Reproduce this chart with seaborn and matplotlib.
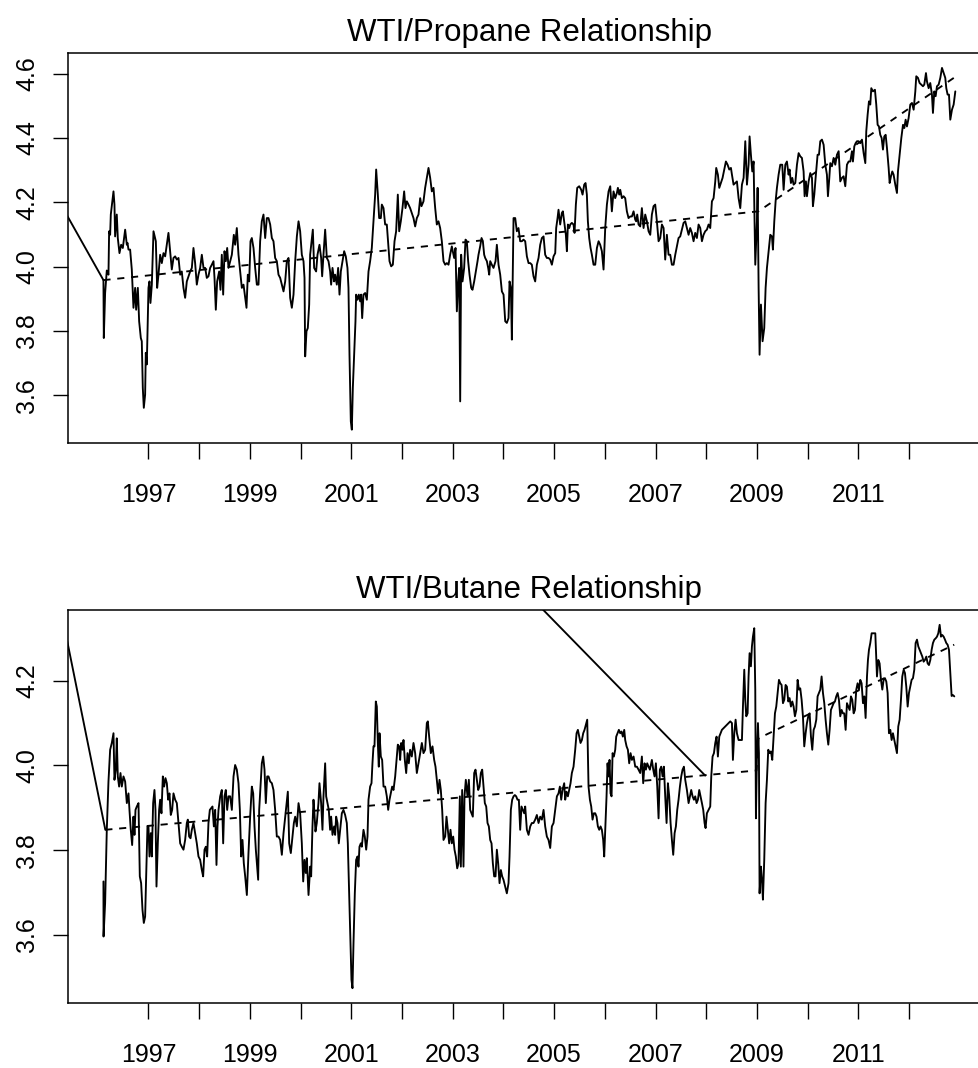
import matplotlib
matplotlib.use("Agg")
import matplotlib.pyplot as plt
import pandas as pd
import seaborn as sns

# weekly WTI/propane ratio (year, value)
propane = [
    (1996.113, 3.958), (1996.120, 3.778), (1996.146, 3.918), (1996.179, 3.988), (1996.212, 3.975),
    (1996.225, 4.110), (1996.245, 4.099), (1996.258, 4.162), (1996.311, 4.234), (1996.330, 4.193),
    (1996.343, 4.094), (1996.376, 4.162), (1996.396, 4.089), (1996.429, 4.042), (1996.462, 4.068),
    (1996.495, 4.058), (1996.541, 4.115), (1996.574, 4.068), (1996.587, 4.074), (1996.607, 4.053),
    (1996.639, 4.053), (1996.672, 3.991), (1996.705, 3.872), (1996.738, 3.934), (1996.758, 3.866),
    (1996.791, 3.934), (1996.817, 3.830), (1996.850, 3.778), (1996.869, 3.768), (1996.889, 3.623),
    (1996.909, 3.561), (1996.935, 3.602), (1996.948, 3.732), (1996.968, 3.696), (1997.001, 3.934),
    (1997.021, 3.954), (1997.040, 3.887), (1997.067, 3.944), (1997.100, 4.110), (1997.146, 4.079),
    (1997.172, 3.934), (1997.198, 3.975), (1997.231, 4.037), (1997.264, 4.011), (1997.297, 4.042),
    (1997.330, 4.032), (1997.363, 4.068), (1997.395, 4.105), (1997.428, 4.048), (1997.461, 3.991),
    (1997.494, 4.027), (1997.527, 4.032), (1997.560, 4.022), (1997.593, 4.027), (1997.626, 3.975),
    (1997.658, 3.985), (1997.691, 3.934), (1997.724, 3.903), (1997.757, 3.954), (1997.790, 3.970),
    (1997.823, 3.985), (1997.856, 3.996), (1997.888, 4.058), (1997.921, 4.011), (1997.954, 3.944),
    (1997.987, 3.975), (1998.020, 3.996), (1998.053, 4.037), (1998.086, 3.996), (1998.119, 3.996),
    (1998.151, 3.965), (1998.184, 3.970), (1998.217, 3.996), (1998.250, 4.006), (1998.283, 4.017),
    (1998.303, 3.965), (1998.329, 3.866), (1998.355, 3.954), (1998.395, 3.985), (1998.421, 3.928),
    (1998.447, 4.037), (1998.474, 3.913), (1998.500, 4.048), (1998.526, 4.017), (1998.553, 4.058),
    (1998.579, 3.996), (1998.612, 4.017), (1998.645, 4.037), (1998.684, 4.099), (1998.710, 4.068),
    (1998.743, 4.120), (1998.776, 4.037), (1998.809, 3.985), (1998.842, 3.934), (1998.875, 3.944),
    (1998.908, 3.903), (1998.934, 3.872), (1998.960, 3.975), (1998.987, 3.954), (1999.013, 4.079),
    (1999.039, 4.089), (1999.072, 4.058), (1999.105, 3.996), (1999.138, 3.944), (1999.171, 3.944),
    (1999.203, 4.079), (1999.236, 4.141), (1999.269, 4.162), (1999.302, 4.089), (1999.335, 4.151),
    (1999.368, 4.151), (1999.401, 4.131), (1999.434, 4.089), (1999.466, 4.079), (1999.499, 4.027),
    (1999.532, 4.017), (1999.565, 3.975), (1999.598, 3.965), (1999.631, 3.944), (1999.664, 3.923),
    (1999.697, 3.954), (1999.729, 4.017), (1999.762, 4.027), (1999.795, 3.903), (1999.828, 3.872),
    (1999.861, 3.913), (1999.894, 4.017), (1999.927, 4.094), (1999.960, 4.141), (1999.992, 4.110),
    (2000.025, 4.037), (2000.058, 4.017), (2000.078, 3.965), (2000.091, 3.721), (2000.117, 3.799),
    (2000.143, 3.809), (2000.170, 3.882), (2000.189, 4.037), (2000.242, 4.115), (2000.268, 3.996),
    (2000.307, 3.985), (2000.334, 4.037), (2000.373, 4.068), (2000.406, 4.027), (2000.426, 3.970),
    (2000.452, 4.037), (2000.485, 4.115), (2000.518, 4.027), (2000.551, 4.017), (2000.583, 3.985),
    (2000.603, 3.944), (2000.630, 3.996), (2000.662, 3.954), (2000.682, 3.975), (2000.715, 3.944),
    (2000.741, 3.996), (2000.768, 3.913), (2000.794, 3.985), (2000.827, 4.017), (2000.860, 4.048),
    (2000.892, 4.032), (2000.925, 3.996), (2000.945, 3.934), (2000.965, 3.726), (2000.991, 3.519),
    (2001.011, 3.493), (2001.031, 3.623), (2001.057, 3.726), (2001.083, 3.830), (2001.096, 3.913),
    (2001.123, 3.897), (2001.149, 3.913), (2001.175, 3.892), (2001.195, 3.913), (2001.215, 3.840),
    (2001.241, 3.913), (2001.274, 3.918), (2001.307, 3.897), (2001.340, 3.985), (2001.372, 4.017),
    (2001.405, 4.058), (2001.438, 4.141), (2001.471, 4.224), (2001.491, 4.302), (2001.524, 4.224),
    (2001.550, 4.151), (2001.583, 4.151), (2001.603, 4.193), (2001.636, 4.182), (2001.668, 4.131),
    (2001.701, 4.131), (2001.721, 4.089), (2001.754, 4.017), (2001.787, 4.001), (2001.820, 4.006),
    (2001.853, 4.079), (2001.885, 4.110), (2001.918, 4.224), (2001.945, 4.110), (2001.977, 4.141),
    (2002.010, 4.182), (2002.043, 4.234), (2002.069, 4.182), (2002.096, 4.203), (2002.129, 4.193),
    (2002.161, 4.182), (2002.194, 4.167), (2002.227, 4.151), (2002.260, 4.125), (2002.293, 4.151),
    (2002.326, 4.162), (2002.359, 4.213), (2002.385, 4.188), (2002.424, 4.203), (2002.457, 4.245),
    (2002.490, 4.276), (2002.523, 4.307), (2002.556, 4.276), (2002.589, 4.234), (2002.622, 4.245),
    (2002.655, 4.182), (2002.687, 4.131), (2002.720, 4.141), (2002.753, 4.120), (2002.786, 4.079),
    (2002.819, 4.017), (2002.852, 4.006), (2002.885, 4.011), (2002.918, 4.006), (2002.950, 4.037),
    (2002.983, 4.063), (2003.003, 4.048), (2003.029, 4.027), (2003.056, 4.058), (2003.082, 3.861),
    (2003.108, 3.954), (2003.128, 3.996), (2003.148, 3.581), (2003.167, 4.037), (2003.194, 3.954),
    (2003.226, 3.996), (2003.253, 4.084), (2003.279, 4.079), (2003.305, 4.017), (2003.332, 3.975),
    (2003.365, 3.934), (2003.391, 3.928), (2003.424, 3.954), (2003.457, 3.985), (2003.490, 4.017),
    (2003.509, 4.037), (2003.542, 4.063), (2003.569, 4.089), (2003.595, 4.079), (2003.621, 4.037),
    (2003.641, 4.027), (2003.674, 4.017), (2003.700, 3.996), (2003.720, 3.975), (2003.740, 4.017),
    (2003.772, 4.006), (2003.805, 3.996), (2003.845, 4.017), (2003.871, 4.068), (2003.904, 4.006),
    (2003.937, 3.975), (2003.970, 3.923), (2004.003, 3.913), (2004.036, 3.830), (2004.068, 3.825),
    (2004.101, 3.840), (2004.121, 3.954), (2004.147, 3.934), (2004.167, 3.773), (2004.200, 4.151),
    (2004.233, 4.151), (2004.265, 4.110), (2004.298, 4.120), (2004.331, 4.079), (2004.364, 4.079),
    (2004.397, 4.084), (2004.430, 4.079), (2004.463, 4.032), (2004.496, 4.011), (2004.529, 4.011),
    (2004.561, 4.006), (2004.594, 3.970), (2004.627, 3.954), (2004.660, 4.006), (2004.693, 4.027),
    (2004.726, 4.068), (2004.759, 4.089), (2004.792, 4.094), (2004.824, 4.037), (2004.857, 4.027),
    (2004.890, 4.027), (2004.923, 4.022), (2004.956, 4.006), (2004.989, 4.032), (2005.022, 4.042),
    (2005.041, 4.120), (2005.068, 4.151), (2005.087, 4.177), (2005.120, 4.131), (2005.153, 4.167),
    (2005.173, 4.172), (2005.206, 4.131), (2005.232, 4.099), (2005.252, 4.048), (2005.272, 4.131),
    (2005.298, 4.120), (2005.318, 4.131), (2005.350, 4.136), (2005.383, 4.131), (2005.403, 4.105),
    (2005.429, 4.193), (2005.456, 4.245), (2005.495, 4.250), (2005.535, 4.239), (2005.561, 4.224),
    (2005.594, 4.255), (2005.620, 4.260), (2005.646, 4.224), (2005.666, 4.141), (2005.692, 4.089),
    (2005.719, 4.058), (2005.745, 4.037), (2005.778, 4.006), (2005.811, 4.006), (2005.844, 4.058),
    (2005.877, 4.079), (2005.909, 4.068), (2005.942, 4.048), (2005.975, 3.991), (2006.008, 4.120),
    (2006.041, 4.193), (2006.074, 4.234), (2006.107, 4.250), (2006.139, 4.172), (2006.172, 4.234),
    (2006.205, 4.213), (2006.238, 4.229), (2006.258, 4.245), (2006.284, 4.224), (2006.304, 4.239),
    (2006.337, 4.213), (2006.370, 4.219), (2006.402, 4.213), (2006.435, 4.172), (2006.468, 4.151),
    (2006.501, 4.156), (2006.534, 4.156), (2006.567, 4.172), (2006.600, 4.146), (2006.619, 4.141),
    (2006.639, 4.162), (2006.665, 4.131), (2006.698, 4.125), (2006.731, 4.182), (2006.764, 4.120),
    (2006.797, 4.162), (2006.830, 4.141), (2006.863, 4.110), (2006.896, 4.099), (2006.928, 4.162),
    (2006.961, 4.188), (2006.994, 4.193), (2007.027, 4.141), (2007.060, 4.079), (2007.093, 4.089),
    (2007.126, 4.131), (2007.159, 4.120), (2007.191, 4.022), (2007.224, 4.099), (2007.257, 4.037),
    (2007.290, 4.037), (2007.323, 4.006), (2007.356, 4.006), (2007.389, 4.037), (2007.422, 4.063),
    (2007.454, 4.089), (2007.487, 4.094), (2007.520, 4.115), (2007.553, 4.136), (2007.586, 4.141),
    (2007.619, 4.120), (2007.652, 4.099), (2007.684, 4.120), (2007.717, 4.105), (2007.750, 4.079),
    (2007.783, 4.105), (2007.816, 4.089), (2007.849, 4.131), (2007.882, 4.120), (2007.915, 4.079),
    (2007.947, 4.099), (2007.980, 4.110), (2008.013, 4.115), (2008.046, 4.131), (2008.079, 4.120),
    (2008.112, 4.203), (2008.145, 4.213), (2008.178, 4.265), (2008.197, 4.307), (2008.230, 4.286),
    (2008.257, 4.245), (2008.289, 4.260), (2008.322, 4.276), (2008.355, 4.302), (2008.388, 4.327),
    (2008.421, 4.317), (2008.454, 4.302), (2008.487, 4.307), (2008.507, 4.286), (2008.539, 4.255),
    (2008.572, 4.260), (2008.605, 4.265), (2008.638, 4.213), (2008.671, 4.182), (2008.704, 4.255),
    (2008.737, 4.276), (2008.770, 4.390), (2008.803, 4.255), (2008.835, 4.317), (2008.855, 4.405),
    (2008.881, 4.348), (2008.908, 4.296), (2008.934, 4.327), (2008.967, 4.006), (2009.000, 4.141),
    (2009.013, 4.245), (2009.033, 3.934), (2009.052, 3.726), (2009.079, 3.882), (2009.111, 3.768),
    (2009.144, 3.809), (2009.171, 3.934), (2009.197, 3.996), (2009.230, 4.048), (2009.263, 4.099),
    (2009.296, 4.094), (2009.315, 4.053), (2009.342, 4.141), (2009.368, 4.203), (2009.394, 4.245),
    (2009.427, 4.286), (2009.460, 4.317), (2009.499, 4.317), (2009.526, 4.239), (2009.559, 4.317),
    (2009.591, 4.327), (2009.624, 4.286), (2009.644, 4.302), (2009.670, 4.260), (2009.697, 4.276),
    (2009.723, 4.255), (2009.756, 4.260), (2009.789, 4.317), (2009.822, 4.353), (2009.854, 4.343),
    (2009.887, 4.338), (2009.920, 4.296), (2009.940, 4.219), (2009.966, 4.265), (2009.986, 4.219),
    (2010.019, 4.265), (2010.052, 4.291), (2010.085, 4.276), (2010.104, 4.188), (2010.131, 4.224),
    (2010.157, 4.276), (2010.196, 4.348), (2010.223, 4.348), (2010.249, 4.390), (2010.282, 4.395),
    (2010.315, 4.379), (2010.348, 4.317), (2010.380, 4.286), (2010.400, 4.219), (2010.427, 4.276),
    (2010.446, 4.322), (2010.479, 4.312), (2010.512, 4.338), (2010.545, 4.317), (2010.578, 4.348),
    (2010.611, 4.359), (2010.643, 4.265), (2010.676, 4.276), (2010.709, 4.281), (2010.742, 4.250),
    (2010.775, 4.317), (2010.808, 4.327), (2010.841, 4.327), (2010.874, 4.359), (2010.893, 4.327),
    (2010.920, 4.374), (2010.946, 4.384), (2010.972, 4.390), (2011.005, 4.390), (2011.038, 4.384),
    (2011.071, 4.395), (2011.104, 4.353), (2011.137, 4.322), (2011.156, 4.421), (2011.183, 4.473),
    (2011.209, 4.514), (2011.235, 4.504), (2011.255, 4.555), (2011.288, 4.545), (2011.327, 4.550),
    (2011.353, 4.504), (2011.380, 4.441), (2011.406, 4.436), (2011.432, 4.410), (2011.459, 4.400),
    (2011.485, 4.364), (2011.511, 4.405), (2011.538, 4.410), (2011.564, 4.369), (2011.597, 4.307),
    (2011.617, 4.260), (2011.643, 4.281), (2011.669, 4.296), (2011.695, 4.286), (2011.728, 4.255),
    (2011.761, 4.229), (2011.781, 4.296), (2011.814, 4.348), (2011.847, 4.400), (2011.880, 4.441),
    (2011.906, 4.431), (2011.932, 4.457), (2011.958, 4.436), (2011.991, 4.462), (2012.024, 4.504),
    (2012.057, 4.509), (2012.090, 4.488), (2012.123, 4.545), (2012.142, 4.592), (2012.175, 4.587),
    (2012.208, 4.571), (2012.241, 4.566), (2012.274, 4.561), (2012.300, 4.566), (2012.333, 4.602),
    (2012.353, 4.576), (2012.386, 4.555), (2012.418, 4.571), (2012.451, 4.535), (2012.471, 4.478),
    (2012.497, 4.545), (2012.524, 4.530), (2012.550, 4.561), (2012.583, 4.566), (2012.616, 4.587),
    (2012.649, 4.618), (2012.682, 4.602), (2012.714, 4.587), (2012.734, 4.555), (2012.760, 4.535),
    (2012.787, 4.535), (2012.813, 4.457), (2012.846, 4.488), (2012.879, 4.504), (2012.912, 4.545),
]

# weekly WTI/butane ratio (year, value)
butane = [
    (1996.113, 3.726), (1996.115, 3.596), (1996.146, 3.675), (1996.179, 3.848), (1996.212, 3.962),
    (1996.245, 4.037), (1996.278, 4.053), (1996.311, 4.076), (1996.330, 3.966), (1996.357, 3.990),
    (1996.376, 4.064), (1996.396, 3.974), (1996.422, 3.950), (1996.449, 3.982), (1996.475, 3.950),
    (1996.508, 3.974), (1996.541, 3.962), (1996.574, 3.911), (1996.607, 3.934), (1996.626, 3.895),
    (1996.652, 3.848), (1996.679, 3.812), (1996.705, 3.879), (1996.725, 3.836), (1996.745, 3.895),
    (1996.771, 3.903), (1996.804, 3.911), (1996.830, 3.738), (1996.856, 3.722), (1996.883, 3.659),
    (1996.909, 3.628), (1996.935, 3.643), (1996.955, 3.738), (1996.981, 3.856), (1997.001, 3.856),
    (1997.021, 3.785), (1997.047, 3.840), (1997.067, 3.785), (1997.093, 3.911), (1997.119, 3.942),
    (1997.139, 3.895), (1997.159, 3.714), (1997.185, 3.816), (1997.211, 3.895), (1997.231, 3.919),
    (1997.257, 3.887), (1997.284, 3.974), (1997.310, 3.950), (1997.336, 3.970), (1997.363, 3.958),
    (1997.389, 3.919), (1997.415, 3.934), (1997.441, 3.883), (1997.468, 3.895), (1997.494, 3.934),
    (1997.527, 3.919), (1997.560, 3.911), (1997.593, 3.864), (1997.626, 3.816), (1997.658, 3.808),
    (1997.691, 3.801), (1997.724, 3.824), (1997.757, 3.864), (1997.777, 3.872), (1997.803, 3.832),
    (1997.830, 3.828), (1997.856, 3.848), (1997.888, 3.864), (1997.921, 3.840), (1997.954, 3.816),
    (1997.987, 3.785), (1998.020, 3.777), (1998.053, 3.753), (1998.079, 3.738), (1998.106, 3.801),
    (1998.132, 3.808), (1998.158, 3.785), (1998.184, 3.864), (1998.211, 3.895), (1998.237, 3.899),
    (1998.263, 3.903), (1998.290, 3.856), (1998.316, 3.895), (1998.342, 3.765), (1998.362, 3.856),
    (1998.382, 3.895), (1998.415, 3.927), (1998.447, 3.942), (1998.474, 3.816), (1998.500, 3.927),
    (1998.526, 3.942), (1998.553, 3.895), (1998.579, 3.927), (1998.612, 3.927), (1998.645, 3.895),
    (1998.678, 3.974), (1998.710, 4.001), (1998.743, 3.990), (1998.776, 3.958), (1998.803, 3.895),
    (1998.829, 3.785), (1998.855, 3.824), (1998.881, 3.769), (1998.908, 3.738), (1998.941, 3.694),
    (1998.973, 3.793), (1999.006, 3.879), (1999.039, 3.950), (1999.066, 3.934), (1999.092, 3.856),
    (1999.118, 3.801), (1999.145, 3.761), (1999.164, 3.730), (1999.184, 3.895), (1999.210, 3.950),
    (1999.236, 4.005), (1999.263, 4.021), (1999.289, 3.990), (1999.315, 3.911), (1999.342, 3.974),
    (1999.368, 3.974), (1999.401, 3.962), (1999.434, 3.958), (1999.466, 3.942), (1999.499, 3.895),
    (1999.532, 3.832), (1999.565, 3.832), (1999.598, 3.824), (1999.631, 3.789), (1999.664, 3.840),
    (1999.697, 3.879), (1999.729, 3.919), (1999.749, 3.938), (1999.776, 3.816), (1999.808, 3.793),
    (1999.841, 3.832), (1999.868, 3.864), (1999.894, 3.879), (1999.927, 3.856), (1999.960, 3.911),
    (1999.992, 3.887), (2000.025, 3.816), (2000.052, 3.726), (2000.078, 3.777), (2000.104, 3.746),
    (2000.124, 3.781), (2000.157, 3.694), (2000.190, 3.761), (2000.209, 3.738), (2000.235, 3.856),
    (2000.255, 3.919), (2000.274, 3.887), (2000.294, 3.844), (2000.320, 3.864), (2000.353, 3.911),
    (2000.373, 3.958), (2000.406, 3.911), (2000.432, 3.848), (2000.452, 3.927), (2000.485, 4.005),
    (2000.505, 3.927), (2000.531, 3.911), (2000.557, 3.895), (2000.583, 3.848), (2000.603, 3.879),
    (2000.630, 3.836), (2000.662, 3.856), (2000.682, 3.836), (2000.702, 3.879), (2000.728, 3.864),
    (2000.754, 3.816), (2000.781, 3.848), (2000.814, 3.887), (2000.846, 3.895), (2000.879, 3.883),
    (2000.912, 3.864), (2000.932, 3.816), (2000.958, 3.698), (2000.985, 3.580), (2001.004, 3.494),
    (2001.024, 3.474), (2001.044, 3.580), (2001.070, 3.698), (2001.096, 3.777), (2001.123, 3.785),
    (2001.142, 3.761), (2001.162, 3.808), (2001.188, 3.816), (2001.208, 3.808), (2001.241, 3.848),
    (2001.267, 3.832), (2001.294, 3.801), (2001.320, 3.832), (2001.340, 3.919), (2001.372, 3.950),
    (2001.399, 3.958), (2001.418, 4.005), (2001.438, 4.045), (2001.458, 4.045), (2001.484, 4.151),
    (2001.504, 4.139), (2001.524, 4.053), (2001.543, 3.997), (2001.557, 4.076), (2001.583, 4.021),
    (2001.609, 4.013), (2001.636, 3.950), (2001.668, 3.950), (2001.701, 3.927), (2001.728, 3.895),
    (2001.754, 3.919), (2001.780, 3.934), (2001.806, 3.950), (2001.833, 3.942), (2001.866, 3.974),
    (2001.898, 4.021), (2001.918, 4.049), (2001.945, 4.045), (2001.964, 4.013), (2001.984, 4.053),
    (2002.010, 4.037), (2002.030, 4.060), (2002.056, 4.013), (2002.083, 3.982), (2002.109, 4.029),
    (2002.135, 4.005), (2002.161, 4.037), (2002.194, 4.021), (2002.227, 4.053), (2002.260, 4.029),
    (2002.293, 3.982), (2002.326, 4.005), (2002.359, 4.029), (2002.392, 4.053), (2002.424, 4.029),
    (2002.457, 4.037), (2002.490, 4.100), (2002.510, 4.104), (2002.536, 4.068), (2002.569, 4.029),
    (2002.602, 4.045), (2002.635, 4.013), (2002.661, 3.997), (2002.687, 3.966), (2002.714, 3.934),
    (2002.740, 3.966), (2002.766, 3.942), (2002.793, 3.895), (2002.819, 3.824), (2002.852, 3.832),
    (2002.878, 3.879), (2002.905, 3.848), (2002.931, 3.816), (2002.957, 3.848), (2002.983, 3.816),
    (2003.010, 3.832), (2003.036, 3.801), (2003.062, 3.785), (2003.089, 3.757), (2003.115, 3.769),
    (2003.141, 3.927), (2003.161, 3.761), (2003.187, 3.942), (2003.213, 3.761), (2003.233, 3.927),
    (2003.259, 3.966), (2003.292, 3.927), (2003.319, 3.966), (2003.345, 3.895), (2003.371, 3.887),
    (2003.397, 3.879), (2003.424, 3.982), (2003.450, 3.990), (2003.476, 3.966), (2003.503, 3.942),
    (2003.529, 3.950), (2003.555, 3.982), (2003.582, 3.990), (2003.608, 3.950), (2003.634, 3.911),
    (2003.661, 3.903), (2003.687, 3.864), (2003.713, 3.856), (2003.740, 3.824), (2003.766, 3.816),
    (2003.792, 3.769), (2003.818, 3.738), (2003.845, 3.738), (2003.871, 3.801), (2003.897, 3.769),
    (2003.924, 3.722), (2003.950, 3.753), (2003.976, 3.738), (2004.002, 3.730), (2004.035, 3.714),
    (2004.068, 3.698), (2004.101, 3.722), (2004.121, 3.785), (2004.147, 3.895), (2004.173, 3.919),
    (2004.200, 3.927), (2004.226, 3.930), (2004.252, 3.927), (2004.278, 3.919), (2004.305, 3.919),
    (2004.331, 3.848), (2004.357, 3.903), (2004.384, 3.895), (2004.410, 3.887), (2004.430, 3.903),
    (2004.463, 3.848), (2004.496, 3.836), (2004.529, 3.856), (2004.561, 3.864), (2004.594, 3.864),
    (2004.627, 3.872), (2004.660, 3.883), (2004.693, 3.864), (2004.726, 3.879), (2004.759, 3.872),
    (2004.792, 3.895), (2004.824, 3.856), (2004.857, 3.832), (2004.890, 3.824), (2004.923, 3.805),
    (2004.956, 3.856), (2004.989, 3.864), (2005.022, 3.895), (2005.055, 3.927), (2005.087, 3.934),
    (2005.114, 3.950), (2005.140, 3.919), (2005.166, 3.942), (2005.199, 3.958), (2005.219, 3.919),
    (2005.245, 3.938), (2005.272, 3.927), (2005.298, 3.942), (2005.324, 3.958), (2005.350, 3.982),
    (2005.383, 3.997), (2005.416, 4.037), (2005.443, 4.076), (2005.469, 4.084), (2005.495, 4.068),
    (2005.521, 4.053), (2005.548, 4.060), (2005.574, 4.076), (2005.600, 4.084), (2005.627, 4.096),
    (2005.653, 4.108), (2005.679, 3.950), (2005.706, 3.919), (2005.732, 3.903), (2005.758, 3.872),
    (2005.784, 3.887), (2005.811, 3.887), (2005.837, 3.879), (2005.863, 3.856), (2005.890, 3.848),
    (2005.916, 3.856), (2005.942, 3.848), (2005.968, 3.824), (2005.988, 3.785), (2006.008, 3.848),
    (2006.034, 3.927), (2006.054, 4.005), (2006.074, 3.974), (2006.093, 4.013), (2006.113, 3.934),
    (2006.133, 3.927), (2006.153, 4.029), (2006.179, 4.021), (2006.205, 4.037), (2006.225, 4.068),
    (2006.251, 4.076), (2006.277, 4.084), (2006.304, 4.076), (2006.330, 4.080), (2006.356, 4.068),
    (2006.383, 4.084), (2006.402, 4.060), (2006.429, 4.045), (2006.455, 4.037), (2006.481, 4.005),
    (2006.508, 4.029), (2006.534, 4.013), (2006.567, 4.021), (2006.600, 3.997), (2006.633, 3.997),
    (2006.665, 3.990), (2006.698, 3.982), (2006.731, 4.021), (2006.757, 3.958), (2006.784, 4.005),
    (2006.810, 3.990), (2006.836, 4.005), (2006.863, 3.997), (2006.889, 3.990), (2006.928, 4.013),
    (2006.955, 3.990), (2006.981, 3.974), (2007.007, 4.005), (2007.034, 3.950), (2007.060, 3.875),
    (2007.086, 3.990), (2007.113, 3.997), (2007.139, 3.974), (2007.165, 3.997), (2007.191, 3.927),
    (2007.218, 3.864), (2007.244, 3.958), (2007.270, 3.927), (2007.297, 3.864), (2007.323, 3.824),
    (2007.349, 3.789), (2007.376, 3.840), (2007.402, 3.856), (2007.428, 3.895), (2007.454, 3.919),
    (2007.481, 3.950), (2007.507, 3.974), (2007.533, 3.990), (2007.560, 3.997), (2007.586, 3.966),
    (2007.619, 3.942), (2007.652, 3.911), (2007.678, 3.927), (2007.704, 3.942), (2007.731, 3.927),
    (2007.757, 3.919), (2007.783, 3.927), (2007.810, 3.911), (2007.836, 3.919), (2007.862, 3.942),
    (2007.888, 3.927), (2007.915, 3.911), (2007.941, 3.895), (2007.967, 3.864), (2007.987, 3.852),
    (2008.013, 3.887), (2008.046, 3.895), (2008.079, 3.903), (2008.099, 3.974), (2008.125, 4.021),
    (2008.152, 4.029), (2008.178, 4.053), (2008.204, 4.068), (2008.230, 4.021), (2008.257, 4.068),
    (2008.283, 4.076), (2008.309, 4.084), (2008.342, 4.088), (2008.375, 4.092), (2008.408, 4.096),
    (2008.441, 4.100), (2008.474, 4.104), (2008.507, 4.100), (2008.526, 4.013), (2008.553, 4.076),
    (2008.579, 4.108), (2008.605, 4.076), (2008.638, 4.060), (2008.671, 4.060), (2008.704, 4.060),
    (2008.724, 4.139), (2008.750, 4.226), (2008.770, 4.155), (2008.789, 4.116), (2008.816, 4.123),
    (2008.835, 4.210), (2008.855, 4.265), (2008.881, 4.234), (2008.901, 4.281), (2008.921, 4.304),
    (2008.947, 4.324), (2008.967, 4.179), (2008.980, 3.875), (2009.000, 4.021), (2009.020, 4.100),
    (2009.039, 4.029), (2009.052, 3.698), (2009.079, 3.761), (2009.098, 3.730), (2009.118, 3.683),
    (2009.144, 3.777), (2009.171, 3.911), (2009.197, 3.966), (2009.223, 4.037), (2009.250, 4.029),
    (2009.276, 4.033), (2009.302, 4.013), (2009.328, 4.068), (2009.355, 4.123), (2009.381, 4.139),
    (2009.407, 4.171), (2009.434, 4.202), (2009.460, 4.194), (2009.486, 4.190), (2009.513, 4.147),
    (2009.539, 4.155), (2009.565, 4.190), (2009.591, 4.186), (2009.618, 4.151), (2009.644, 4.159),
    (2009.670, 4.139), (2009.697, 4.151), (2009.723, 4.139), (2009.749, 4.116), (2009.776, 4.131),
    (2009.802, 4.202), (2009.828, 4.179), (2009.854, 4.182), (2009.881, 4.155), (2009.907, 4.116),
    (2009.933, 4.045), (2009.960, 4.076), (2009.986, 4.100), (2010.012, 4.116), (2010.039, 4.123),
    (2010.065, 4.068), (2010.091, 4.037), (2010.118, 4.084), (2010.144, 4.092), (2010.170, 4.108),
    (2010.196, 4.163), (2010.223, 4.171), (2010.249, 4.179), (2010.275, 4.210), (2010.302, 4.171),
    (2010.328, 4.147), (2010.354, 4.108), (2010.380, 4.076), (2010.407, 4.049), (2010.433, 4.084),
    (2010.459, 4.131), (2010.486, 4.139), (2010.512, 4.147), (2010.538, 4.151), (2010.564, 4.163),
    (2010.591, 4.171), (2010.617, 4.155), (2010.643, 4.116), (2010.670, 4.131), (2010.696, 4.123),
    (2010.722, 4.123), (2010.749, 4.084), (2010.775, 4.147), (2010.801, 4.139), (2010.828, 4.131),
    (2010.854, 4.163), (2010.880, 4.155), (2010.907, 4.123), (2010.933, 4.131), (2010.959, 4.179),
    (2010.985, 4.194), (2011.012, 4.179), (2011.038, 4.202), (2011.064, 4.194), (2011.091, 4.147),
    (2011.117, 4.163), (2011.143, 4.112), (2011.170, 4.210), (2011.189, 4.249), (2011.209, 4.273),
    (2011.235, 4.289), (2011.262, 4.312), (2011.301, 4.312), (2011.334, 4.312), (2011.367, 4.210),
    (2011.393, 4.249), (2011.419, 4.241), (2011.446, 4.202), (2011.472, 4.179), (2011.498, 4.202),
    (2011.524, 4.206), (2011.551, 4.198), (2011.577, 4.171), (2011.603, 4.076), (2011.630, 4.084),
    (2011.656, 4.060), (2011.682, 4.076), (2011.709, 4.060), (2011.735, 4.045), (2011.761, 4.029),
    (2011.787, 4.092), (2011.814, 4.108), (2011.840, 4.155), (2011.866, 4.210), (2011.893, 4.226),
    (2011.919, 4.218), (2011.945, 4.186), (2011.972, 4.139), (2011.998, 4.171), (2012.024, 4.186),
    (2012.050, 4.202), (2012.077, 4.206), (2012.103, 4.226), (2012.129, 4.289), (2012.156, 4.297),
    (2012.182, 4.281), (2012.208, 4.273), (2012.235, 4.265), (2012.261, 4.257), (2012.287, 4.245),
    (2012.313, 4.249), (2012.340, 4.257), (2012.366, 4.241), (2012.392, 4.237), (2012.419, 4.249),
    (2012.445, 4.273), (2012.471, 4.289), (2012.498, 4.297), (2012.524, 4.300), (2012.550, 4.304),
    (2012.576, 4.312), (2012.603, 4.332), (2012.629, 4.304), (2012.655, 4.308), (2012.682, 4.304),
    (2012.708, 4.297), (2012.734, 4.289), (2012.760, 4.285), (2012.787, 4.273), (2012.813, 4.218),
    (2012.839, 4.164), (2012.866, 4.166), (2012.892, 4.163),
]

# fitted trend lines (dashed)
propane_trend = [(1996.113, 3.958), (2009.03, 4.172), (2012.91, 4.590)]
butane_trend = [(1996.15, 3.848), (2008.99, 3.988), (2009.03, 4.064), (2012.89, 4.285)]

# stray connecting segments that run off the plot region
propane_strays = [[(1995.0, 4.270), (1996.113, 3.958)]]
butane_strays = [[(1995.0, 4.530), (1996.15, 3.848)],
                 [(2003.0, 4.586), (2007.98, 3.976)]]

year_ticks = list(range(1997, 2013))
year_labels = [str(y) if y % 2 == 1 else "" for y in year_ticks]

sns.set_theme(style="white")
plt.rcParams["font.family"] = ["Liberation Sans", "DejaVu Sans"]

fig = plt.figure(figsize=(9.79, 10.68), dpi=100)

panels = [
    ("WTI/Propane Relationship", propane, propane_trend, propane_strays,
     [0.06977, 0.58474, 0.94116, 0.36582], (3.450, 4.665), [3.6, 3.8, 4.0, 4.2, 4.4, 4.6]),
    ("WTI/Butane Relationship", butane, butane_trend, butane_strays,
     [0.06977, 0.06086, 0.94116, 0.36798], (3.439, 4.367), [3.6, 3.8, 4.0, 4.2]),
]

for title, series, trend, strays, rect, ylim, yticks in panels:
    ax = fig.add_axes(rect)
    df = pd.DataFrame(series, columns=["year", "ratio"])
    sns.lineplot(data=df, x="year", y="ratio", ax=ax, color="black",
                 lw=1.35, estimator=None, sort=False)
    tr = pd.DataFrame(trend, columns=["year", "ratio"])
    sns.lineplot(data=tr, x="year", y="ratio", ax=ax, color="black",
                 lw=1.35, estimator=None, sort=False)
    ax.lines[-1].set_dashes((3.8, 3.6))
    for seg in strays:
        sd = pd.DataFrame(seg, columns=["year", "ratio"])
        sns.lineplot(data=sd, x="year", y="ratio", ax=ax, color="black",
                     lw=1.35, estimator=None, sort=False)

    ax.set_xlim(1995.42, 2013.59)
    ax.set_ylim(*ylim)
    ax.set_xticks(year_ticks)
    ax.set_xticklabels(year_labels)
    ax.set_yticks(yticks)
    ax.set_yticklabels([f"{v:.1f}" for v in yticks], rotation=90, va="center")
    ax.set_xlabel("")
    ax.set_ylabel("")
    ax.set_title(title, fontsize=22.5, color="black", pad=8.5)
    ax.tick_params(axis="x", bottom=True, length=11.5, width=1.0, pad=17,
                   labelsize=18, colors="black", direction="out")
    ax.tick_params(axis="y", left=True, length=11, width=1.0, pad=10,
                   labelsize=18, colors="black", direction="out")
    for sp in ax.spines.values():
        sp.set_color("black")
        sp.set_linewidth(1.1)

fig.savefig("out.png", dpi=100)
